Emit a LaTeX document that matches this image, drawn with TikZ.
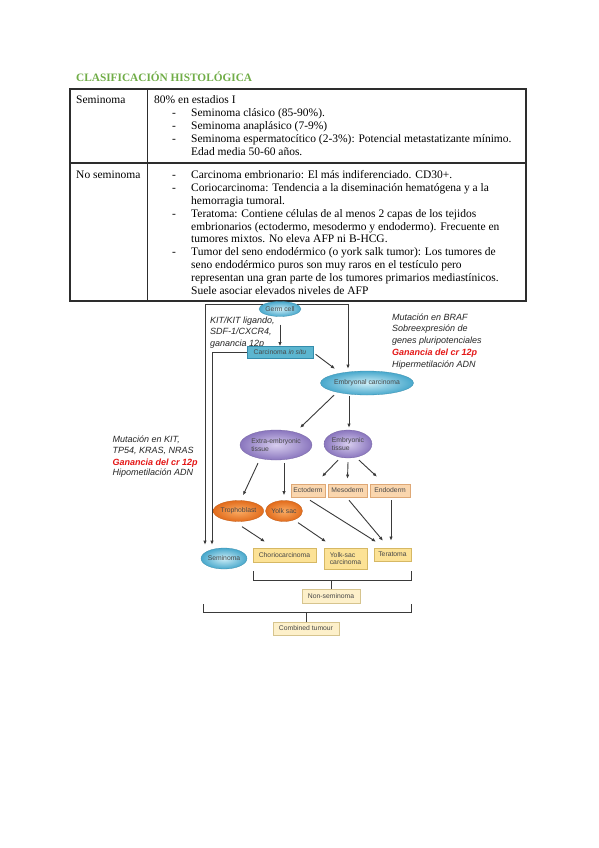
\documentclass[tikz,border=0pt]{standalone}
\usepackage{fontspec}
\setmainfont{Liberation Serif}
\newfontfamily\sansf{Liberation Sans}
\usetikzlibrary{shapes.geometric,arrows.meta}
\definecolor{titlegreen}{RGB}{112,173,71}
\definecolor{tabline}{RGB}{45,45,45}
\definecolor{cyanin}{RGB}{205,238,247}
\definecolor{cyanout}{RGB}{72,168,204}
\definecolor{cisfill}{RGB}{92,182,208}
\definecolor{cisdraw}{RGB}{52,140,172}
\definecolor{purin}{RGB}{215,205,238}
\definecolor{purout}{RGB}{138,118,190}
\definecolor{orin}{RGB}{250,172,100}
\definecolor{orout}{RGB}{226,108,28}
\definecolor{peach}{RGB}{250,214,174}
\definecolor{peachd}{RGB}{222,168,118}
\definecolor{yel}{RGB}{252,226,150}
\definecolor{yeld}{RGB}{214,184,100}
\definecolor{pale}{RGB}{253,240,202}
\definecolor{paled}{RGB}{214,196,142}
\definecolor{lnc}{RGB}{58,58,58}
\definecolor{redt}{RGB}{228,22,22}
\begin{document}
\begin{tikzpicture}[x=1pt,y=-1pt,
  tab/.style={draw=tabline,line width=1.3pt},
  tt/.style={anchor=base west,inner sep=0pt,font=\fontsize{11.5}{12.8}\selectfont},
  ttl/.style={anchor=base west,inner sep=0pt,font=\fontsize{11.3}{13}\selectfont\bfseries,text=titlegreen},
  it/.style={anchor=base west,inner sep=0pt,font=\sansf\itshape\fontsize{9}{11}\selectfont,text=black!85},
  itr/.style={it,font=\sansf\itshape\bfseries\fontsize{9}{11}\selectfont,text=redt},
  lbl/.style={font=\sansf\fontsize{6.8}{7.6}\selectfont,text=black!72,inner sep=0pt},
  tealell/.style={ellipse,lbl,draw=cyanout!85!black,line width=0.3pt,inner color=cyanin,outer color=cyanout},
  purell/.style={ellipse,lbl,align=left,draw=purout!85!black,line width=0.3pt,inner color=purin,outer color=purout},
  orell/.style={ellipse,lbl,draw=orout!85!black,line width=0.3pt,inner color=orin,outer color=orout},
  cisbox/.style={rectangle,lbl,fill=cisfill,draw=cisdraw,line width=0.4pt},
  germbox/.style={rectangle,lbl,fill=peach,draw=peachd,line width=0.5pt},
  tumbox/.style={rectangle,lbl,fill=yel,draw=yeld,line width=0.5pt},
  palebox/.style={rectangle,lbl,fill=pale,draw=paled,line width=0.5pt},
  arr/.style={draw=lnc,line width=0.9pt,-{Latex[length=4.2pt,width=3.4pt]}},
  ln/.style={draw=lnc,line width=0.9pt}]
\fill[white] (0,0) rectangle (599,848);
\useasboundingbox (0,0) rectangle (599,848);
% ---------- title and table ----------
\node[ttl] (title) at (76,81.8) {CLASIFICACIÓN HISTOLÓGICA};
\draw[tab] (70,89) rectangle (526,301);
\draw[tab] (70,163) -- (526,163);
\draw[tab] (147.5,89) -- (147.5,301);
\node[tt] (c1) at (76,103.3) {Seminoma};
\node[tt] (c2) at (76,178.8) {No seminoma};
% row 1
\node[tt] (a0) at (154,103.3) {80\% en estadios I};
\node[tt] (d1) at (172,116.3) {-};
\node[tt] (a1) at (191,116.3) {Seminoma clásico (85-90\%).};
\node[tt] (d2) at (172,129.3) {-};
\node[tt] (a2) at (191,129.3) {Seminoma anaplásico (7-9\%)};
\node[tt] (d3) at (172,142.3) {-};
\node[tt] (a3) at (191,142.3) {Seminoma espermatocítico (2-3\%): Potencial metastatizante mínimo.};
\node[tt] (a4) at (191,155.3) {Edad media 50-60 años.};
% row 2
\node[tt] (d4) at (172,178.8) {-};
\node[tt] (b1) at (191,178.8) {Carcinoma embrionario: El más indiferenciado. CD30+.};
\node[tt] (d5) at (172,191.6) {-};
\node[tt] (b2) at (191,191.6) {Coriocarcinoma: Tendencia a la diseminación hematógena y a la};
\node[tt] (b3) at (191,204.4) {hemorragia tumoral.};
\node[tt] (d6) at (172,217.2) {-};
\node[tt] (b4) at (191,217.2) {Teratoma: Contiene células de al menos 2 capas de los tejidos};
\node[tt] (b5) at (191,230.0) {embrionarios (ectodermo, mesodermo y endodermo). Frecuente en};
\node[tt] (b6) at (191,242.8) {tumores mixtos. No eleva AFP ni B-HCG.};
\node[tt] (d7) at (172,255.6) {-};
\node[tt] (b7) at (191,255.6) {Tumor del seno endodérmico (o york salk tumor): Los tumores de};
\node[tt] (b8) at (191,268.4) {seno endodérmico puros son muy raros en el testículo pero};
\node[tt] (b9) at (191,281.2) {representan una gran parte de los tumores primarios mediastínicos.};
\node[tt] (b10) at (191,294.0) {Suele asociar elevados niveles de AFP};
% ---------- side texts ----------
\node[it] (k1) at (210,323.3) {KIT/KIT ligando,};
\node[it] (k2) at (210,334.8) {SDF-1/CXCR4,};
\node[it] (k3) at (210,346.3) {ganancia 12p};
\node[it] (r1) at (392,320.0) {Mutación en BRAF};
\node[it] (r2) at (392,331.8) {Sobreexpresión de};
\node[it] (r3) at (392,343.6) {genes pluripotenciales};
\node[itr] (r4) at (392,355.3) {Ganancia del cr 12p};
\node[it] (r5) at (392,367.0) {Hipermetilación ADN};
\node[it] (l1) at (112.5,442.6) {Mutación en KIT,};
\node[it] (l2) at (112.5,453.8) {TP54, KRAS, NRAS};
\node[itr] (l3) at (112.5,465.0) {Ganancia del cr 12p};
\node[it] (l4) at (112.5,475.8) {Hipometilación ADN};
% ---------- diagram nodes ----------
\node[tealell,minimum width=42,minimum height=15] (G) at (280,309) {Germ cell};
\node[cisbox,minimum width=66,minimum height=12] (CIS) at (280,352.5) {Carcinoma \textit{in situ}};
\node[tealell,minimum width=88,minimum height=24] (EC) at (367,383) {Embryonal carcinoma};
\node[purell,minimum width=72,minimum height=30] (Extra) at (276,445) {Extra-embryonic\\tissue};
\node[purell,minimum width=48,minimum height=28] (Emb) at (348,444) {Embryonic\\tissue};
\node[germbox,minimum width=34,minimum height=13] (Ecto) at (308,490.5) {Ectoderm};
\node[germbox,minimum width=39,minimum height=13] (Meso) at (347.5,490.5) {Mesoderm};
\node[germbox,minimum width=40,minimum height=13] (Endo) at (390,490.5) {Endoderm};
\node[orell,minimum width=49,minimum height=21] (Troph) at (238.5,511) {Trophoblast};
\node[orell,minimum width=37,minimum height=21] (Yolk) at (284,511) {Yolk sac};
\node[tealell,minimum width=43,minimum height=21] (Sem) at (224,558.5) {Seminoma};
\node[tumbox,minimum width=63,minimum height=14] (Cho) at (284.5,555) {Choriocarcinoma};
\node[tumbox,minimum width=43,minimum height=21,align=left] (YSC) at (345.5,558.5) {Yolk-sac\\carcinoma};
\node[tumbox,minimum width=37,minimum height=13] (Ter) at (392.5,554.5) {Teratoma};
\node[palebox,minimum width=58,minimum height=14] (NonS) at (331,596) {Non-seminoma};
\node[palebox,minimum width=66,minimum height=13] (Comb) at (306,628.5) {Combined tumour};
% ---------- connectors ----------
\draw[arr,shorten <=8pt] (G.south) -- (CIS.north);
\draw[arr] (G.165) -| ([xshift=-19pt,yshift=3pt]Sem.north);
\draw[arr] (CIS.west) -| ([xshift=-12pt,yshift=3pt]Sem.north);
\draw[arr] (G.15) -| ([xshift=-19pt,yshift=2pt]EC.north);
\draw[arr,shorten <=3pt] (CIS.east) -- ([xshift=-32pt,yshift=2pt]EC.north);
\draw[arr] ([xshift=-33pt]EC.south) -- ([xshift=24pt,yshift=2pt]Extra.north);
\draw[arr] ([xshift=-18pt,yshift=-1pt]EC.south) -- ([xshift=1pt,yshift=2pt]Emb.north);
\draw[arr] ([xshift=-18pt,yshift=-3pt]Extra.south) -- ([xshift=4.5pt,yshift=5pt]Troph.north);
\draw[arr] ([xshift=8pt,yshift=-3pt]Extra.south) -- ([yshift=5pt]Yolk.north);
\draw[arr] ([xshift=-10pt,yshift=-2pt]Emb.south) -- ([xshift=14pt,yshift=7pt]Ecto.north);
\draw[arr] ([yshift=-4pt]Emb.south) -- ([yshift=5pt]Meso.north);
\draw[arr] ([xshift=11pt,yshift=-2pt]Emb.south) -- ([xshift=-13pt,yshift=7pt]Endo.north);
\draw[arr] ([xshift=3.5pt,yshift=-5pt]Troph.south) -- ([xshift=-19.5pt,yshift=6pt]Cho.north);
\draw[arr] ([xshift=14pt,yshift=-1pt]Yolk.south) -- ([xshift=-19.5pt,yshift=6pt]YSC.north);
\draw[arr] ([xshift=2pt,yshift=-3pt]Ecto.south) -- ([xshift=-16.5pt,yshift=6pt]Ter.north);
\draw[arr] ([xshift=1.5pt,yshift=-3pt]Meso.south) -- ([xshift=-9.5pt,yshift=7pt]Ter.north);
\draw[arr] ([xshift=1pt,yshift=-3pt]Endo.south) -- ([xshift=-1.5pt,yshift=7pt]Ter.north);
% ---------- brackets ----------
\coordinate (nsL) at (253,571);
\coordinate (nsR) at (411,571);
\draw[ln] (nsL) -- ++(0,9) -| (nsR);
\draw[ln] (NonS.north) -- ++(0,-9);
\coordinate (cbL) at (203,604);
\coordinate (cbR) at (411,604);
\draw[ln] (cbL) -- ++(0,8) -| (cbR);
\draw[ln] (Comb.north) -- ++(0,-10);
\end{tikzpicture}
\end{document}
